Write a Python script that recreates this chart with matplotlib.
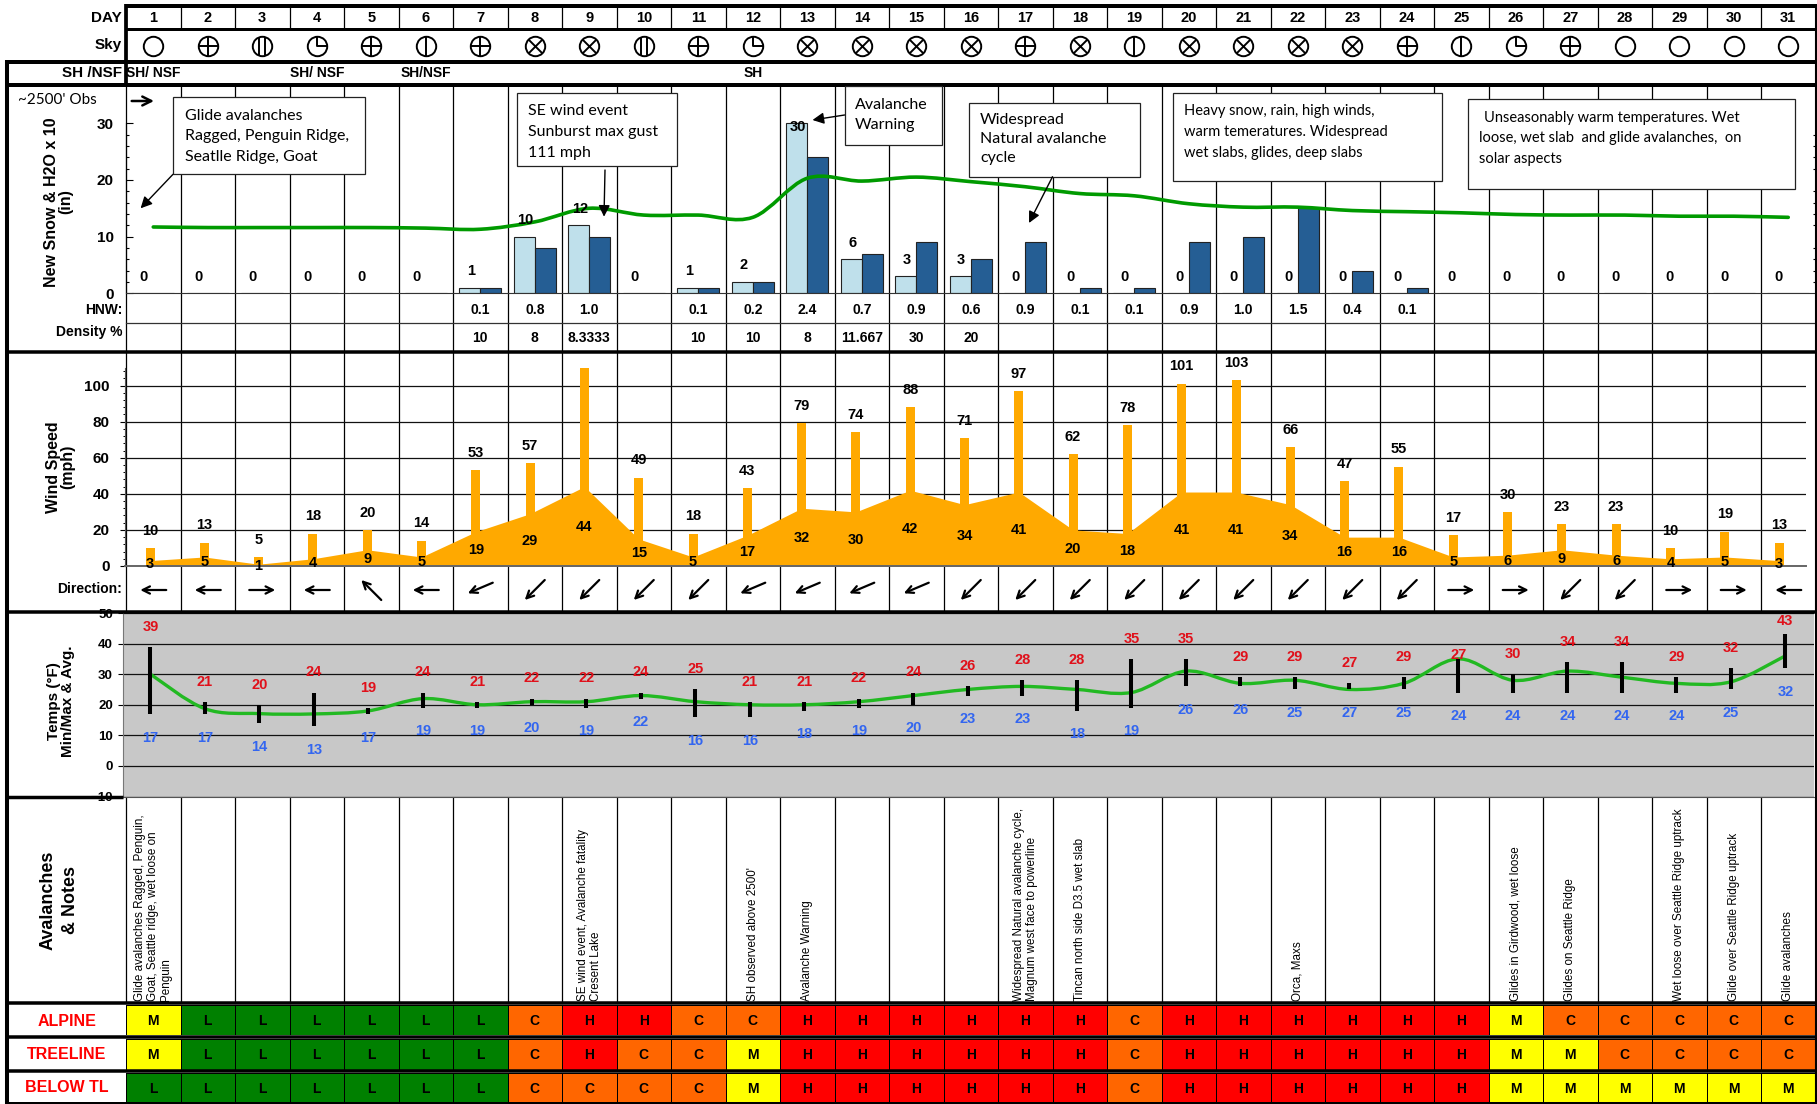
import numpy as np
import matplotlib
matplotlib.use('Agg')
import matplotlib.pyplot as plt
from matplotlib.colors import ListedColormap
from matplotlib.patches import PathPatch, Rectangle
from matplotlib.path import Path

plt.rcParams['font.family'] = ['Liberation Sans', 'DejaVu Sans']

W, H = 1817, 1104
COL_LEFT, COL_W = 126, 54.5
COL_RIGHT = COL_LEFT + 31 * COL_W

days = list(range(1, 32))
sky = ['O', '+', 'II', 'Q', '+', '|', '+', 'X', 'X', 'II', '+', 'Q', 'X', 'X', 'X', 'X', '+',
       'X', '|', 'X', 'X', 'X', 'X', '+', '|', 'Q', '+', 'O', 'O', 'O', 'O']
sh_nsf = {1: 'SH/ NSF', 4: 'SH/ NSF', 6: 'SH/NSF', 12: 'SH'}

new_snow = [0, 0, 0, 0, 0, 0, 1, 10, 12, 0, 1, 2, 30, 6, 3, 3, 0, 0, 0, 0, 0, 0, 0, 0, 0, 0, 0, 0, 0, 0, 0]
h2o_x10 = [0, 0, 0, 0, 0, 0, 1, 8, 10, 0, 1, 2, 24, 7, 9, 6, 9, 1, 1, 9, 10, 15, 4, 1, 0, 0, 0, 0, 0, 0, 0]
snow_depth = [11.7, 11.6, 11.6, 11.6, 11.6, 11.5, 11.3, 12.6, 15, 13.8, 13.8, 13.4, 20.3, 19.8, 20.5, 19.7,
              18.8, 17.6, 17.2, 15.8, 15.2, 15.2, 14.6, 14.4, 14.2, 13.9, 13.8, 13.8, 13.6, 13.6, 13.4]
hnw = ['', '', '', '', '', '', '0.1', '0.8', '1.0', '', '0.1', '0.2', '2.4', '0.7', '0.9', '0.6', '0.9',
       '0.1', '0.1', '0.9', '1.0', '1.5', '0.4', '0.1', '', '', '', '', '', '', '']
density = ['', '', '', '', '', '', '10', '8', '8.3333', '', '10', '10', '8', '11.667', '30', '20'] + [''] * 15

wind_gust = [10, 13, 5, 18, 20, 14, 53, 57, 110, 49, 18, 43, 79, 74, 88, 71, 97, 62, 78, 101, 103, 66, 47, 55,
             17, 30, 23, 23, 10, 19, 13]
wind_avg = [3, 5, 1, 4, 9, 5, 19, 29, 44, 15, 5, 17, 32, 30, 42, 34, 41, 20, 18, 41, 41, 34, 16, 16,
            5, 6, 9, 6, 4, 5, 3]
wind_dir = ['W', 'W', 'E', 'W', 'NW', 'W', 'SWs', 'SW', 'SW', 'SW', 'SW', 'SWs', 'SWs', 'SWs', 'SWs', 'SW', 'SW',
            'SW', 'SW', 'SW', 'SW', 'SW', 'SW', 'SW', 'E', 'E', 'SW', 'SW', 'E', 'E', 'W']

temp_max = [39, 21, 20, 24, 19, 24, 21, 22, 22, 24, 25, 21, 21, 22, 24, 26, 28, 28, 35, 35, 29, 29, 27, 29,
            27, 30, 34, 34, 29, 32, 43]
temp_min = [17, 17, 14, 13, 17, 19, 19, 20, 19, 22, 16, 16, 18, 19, 20, 23, 23, 18, 19, 26, 26, 25, 27, 25,
            24, 24, 24, 24, 24, 25, 32]
bar_hi = [39, 21, 20, 24, 19, 24, 21, 22, 22, 24, 25, 21, 21, 22, 24, 26, 28, 28, 35, 35, 29, 29, 27, 29,
          35, 30, 34, 34, 29, 32, 43]
bar_lo = [17, 17, 14, 13, 17, 19, 19, 20, 19, 22, 16, 16, 18, 19, 20, 23, 23, 18, 19, 26, 26, 25, 25, 25,
          24, 24, 24, 24, 24, 25, 32]
temp_avg = [30, 18.7, 17.1, 17, 18, 22, 20, 21, 21, 23, 21, 20, 20, 21, 23, 25, 26, 25, 24, 31, 27, 28, 25, 27,
            35, 28, 31, 29, 27, 27.5, 36]

notes = {1: 'Glide avalanches Ragged, Penguin,\nGoat, Seattle ridge, wet loose on\nPenguin',
         9: 'SE wind event, Avalanche fatality\nCresent Lake',
         12: "SH observed above 2500'",
         13: 'Avalanche Warning',
         17: 'Widespread Natural avalanche cycle,\nMagnum west face to powerline',
         18: 'Tincan north side D3.5 wet slab',
         22: 'Orca, Maxs',
         26: 'Glides in Girdwood, wet loose',
         27: 'Glides on Seattle Ridge',
         29: 'Wet loose over Seattle Ridge uptrack',
         30: 'Glide over Seattle Ridge uptrack',
         31: 'Glide avalanches'}

alpine = 'MLLLLLLCHHCCHHHHHHCHHHHHHMCCCCC'
treeline = 'MLLLLLLCHCCMHHHHHHCHHHHHHMMCCCC'
below_tl = 'LLLLLLLCCCCMHHHHHHCHHHHHHMMMMMM'

ORANGE = '#FFA900'
DANGER = {'L': '#008000', 'M': '#FFFF00', 'C': '#FF6600', 'H': '#FF0000'}


def panel(left, right, top, bottom, centre1=None, step=COL_W, ylim=(0, 1), zorder=2):
    # axes placed in reference pixels, x in day numbers
    if centre1 is None:
        centre1 = COL_LEFT + COL_W / 2
    ax = fig.add_axes([left / W, 1 - bottom / H, (right - left) / W, (bottom - top) / H], zorder=zorder)
    ax.set_xlim(1 + (left - centre1) / step, 1 + (right - centre1) / step)
    ax.set_ylim(*ylim)
    ax.patch.set_visible(False)
    ax.set_xticks([])
    ax.set_yticks([])
    for s in ax.spines.values():
        s.set_visible(False)
    return ax


def overlay(zorder):
    ax = fig.add_axes([0, 0, 1, 1], zorder=zorder)
    ax.set_xlim(0, W)
    ax.set_ylim(H, 0)
    ax.axis('off')
    return ax


def smooth_line(ax, x, y, **kw):
    # same kind of bezier smoothing a spreadsheet chart uses
    pts = np.column_stack([x, y]).astype(float)
    verts, codes = [pts[0]], [Path.MOVETO]
    for i in range(len(pts) - 1):
        before = pts[max(i - 1, 0)]
        after = pts[min(i + 2, len(pts) - 1)]
        verts += [pts[i] + (pts[i + 1] - before) / 6, pts[i + 1] - (after - pts[i]) / 6, pts[i + 1]]
        codes += [Path.CURVE4] * 3
    ax.add_patch(PathPatch(Path(verts, codes), fill=False, capstyle='round', **kw))


fig = plt.figure(figsize=(W / 100, H / 100), dpi=100)
fig.patch.set_facecolor('white')

# column rules under everything
under = overlay(0)
for i in range(32):
    x = COL_LEFT + i * COL_W
    under.plot([x, x], [5, 29], color='k', lw=0.9)
    under.plot([x, x], [85, 612], color='k', lw=0.9)
    under.plot([x, x], [797, 1003], color='k', lw=0.9)
under.plot([COL_LEFT, COL_RIGHT], [323, 323], color='#333333', lw=0.9)

# header rows
head = panel(COL_LEFT, COL_RIGHT, 5, 85, ylim=(85, 5))
for d in days:
    head.text(d, 18.5, str(d), ha='center', va='center', fontsize=10.5, fontweight='bold')
for d, s in sh_nsf.items():
    head.text(d, 73, s, ha='center', va='center', fontsize=10, fontweight='bold')

# the first moveto in each path only pins the marker scale to the circle radius
move, line = Path.MOVETO, Path.LINETO
sky_paths = {
    '+': Path([(-1, 0), (1, 0), (0, -1), (0, 1)], [move, line, move, line]),
    'X': Path([(1, 1), (-.7, -.7), (.7, .7), (-.7, .7), (.7, -.7)], [move, move, line, move, line]),
    '|': Path([(0, -1), (0, 1)], [move, line]),
    'II': Path([(1, 1), (-.28, -.95), (-.28, .95), (.28, -.95), (.28, .95)], [move, move, line, move, line]),
    'Q': Path([(0, 1), (0, 0), (1, 0)], [move, line, line]),
}
for d, s in zip(days, sky):
    head.plot(d, 45.5, 'o', ms=14, mfc='white', mec='k', mew=1.4)
    if s in sky_paths:
        head.plot(d, 45.5, marker=sky_paths[s], ms=14, mfc='none', mec='k', mew=1.4)

# new snow
snow = panel(COL_LEFT, COL_RIGHT, 85, 293.3, ylim=(0, 36.75))
xs = np.array(days)
bw = 21 / COL_W
snow.bar(xs - bw / 2, new_snow, bw, color='#BFE0EB', edgecolor='#222222', lw=0.8)
snow.bar(xs + bw / 2, h2o_x10, bw, color='#255E94', edgecolor='#222222', lw=0.8)
smooth_line(snow, days, snow_depth, color='#009A00', lw=2.6, zorder=4)
for d, v in zip(days, new_snow):
    off = -2.5 if v == 30 else 12
    snow.annotate(str(v), (d - 9.5 / COL_W, v), xytext=(0, off), textcoords='offset points',
                  ha='center', va='center', fontsize=10.5, fontweight='bold', zorder=5)
snow.spines['left'].set_visible(True)
snow.spines['left'].set_bounds(0, 30)
snow.spines['bottom'].set_visible(True)
snow.spines['bottom'].set_color('#333333')
snow.set_yticks([0, 10, 20, 30])
snow.set_yticks(np.arange(0, 31, 2), minor=True)
snow.tick_params(axis='y', which='major', direction='in', length=4.8, width=0.8, pad=9, labelsize=11)
snow.tick_params(axis='y', which='minor', direction='in', length=2.5, width=0.8, right=True)
for t in snow.get_yticklabels():
    t.set_fontweight('bold')

table = panel(COL_LEFT, COL_RIGHT, 293, 352, ylim=(352, 293))
for d, a, b in zip(days, hnw, density):
    table.text(d, 309.5, a, ha='center', va='center', fontsize=10, fontweight='bold')
    table.text(d, 338.5, b, ha='center', va='center', fontsize=10, fontweight='bold')

# wind
wind = panel(124.5, 1806, 352, 566, centre1=150, step=54.3, ylim=(0, 118.6))
wind.yaxis.grid(True, color='#111111', lw=0.9)
wind.set_axisbelow(True)
wind.fill_between(days, wind_avg, color=ORANGE, lw=0, zorder=2)
wind.bar(days, wind_gust, 9 / 54.3, color=ORANGE, zorder=2)
for d, g, a in zip(days, wind_gust, wind_avg):
    if d != 9:
        wind.annotate(str(g), (d, g), xytext=(0, 12.5), textcoords='offset points',
                      ha='center', va='center', fontsize=10.5, fontweight='bold', zorder=5)
    wind.text(d, a / 2 - 0.5, str(a), ha='center', va='center', fontsize=10.5, fontweight='bold', zorder=5)
wind.spines['left'].set_visible(True)
wind.spines['left'].set_bounds(0, 110)
wind.spines['left'].set_color('#555555')
wind.spines['bottom'].set_visible(True)
wind.spines['bottom'].set_color('#666666')
wind.spines['bottom'].set_linewidth(1.4)
wind.set_yticks(np.arange(0, 101, 20))
wind.set_yticks(np.arange(0, 111, 4), minor=True)
wind.tick_params(axis='y', which='major', length=3.6, width=0.8, pad=7, labelsize=11)
wind.tick_params(axis='y', which='minor', length=1.8, width=0.7)
for t in wind.get_yticklabels():
    t.set_fontweight('bold')

# direction arrows, half vectors in pixels
dir_vec = {'W': (-13, 0, 590), 'E': (13, 0, 590), 'NW': (-10, -10, 590),
           'SW': (-10, 10, 590), 'SWs': (-12.5, 5.3, 588)}
arrows = panel(COL_LEFT, COL_RIGHT, 566, 612, ylim=(612, 566))
for d, name in zip(days, wind_dir):
    dx, dy, yc = dir_vec[name]
    arrows.annotate('', xy=(d + dx / COL_W, yc + dy), xytext=(d - dx / COL_W, yc - dy),
                    arrowprops=dict(arrowstyle='->', lw=1.6, color='k', mutation_scale=13, shrinkA=0, shrinkB=0))

# temperature
temps = panel(123.4, 1814, 613, 796.5, centre1=150.4, step=54.5, ylim=(-10, 50))
temps.patch.set_visible(True)
temps.set_facecolor('#C8C8C8')
temps.yaxis.grid(True, color='#111111', lw=0.9)
temps.set_axisbelow(True)
temps.set_yticks(np.arange(-10, 51, 10))
temps.tick_params(axis='y', length=3.5, width=0.8, pad=4, labelsize=9.5)
for t in temps.get_yticklabels():
    t.set_fontweight('bold')
temps.spines['bottom'].set_visible(True)
temps.spines['bottom'].set_color('#555555')
temps.spines['left'].set_visible(True)
temps.spines['left'].set_color('#777777')
smooth_line(temps, days, temp_avg, color='#22B922', lw=2.4, zorder=3)
temps.vlines(days, bar_lo, bar_hi, color='k', lw=2.9, zorder=4)
max_off = {25: 2.5, 31: 9.5}
for d, hi, lo, a, b in zip(days, bar_hi, bar_lo, temp_max, temp_min):
    temps.annotate(str(a), (d, hi), xytext=(0, max_off.get(d, 14.5)), textcoords='offset points', ha='center',
                   va='center', fontsize=10.5, fontweight='bold', color='#E0101A', zorder=5)
    temps.annotate(str(b), (d, lo), xytext=(0, -17), textcoords='offset points', ha='center',
                   va='center', fontsize=10.5, fontweight='bold', color='#3366F0', zorder=5)

# notes
note_ax = panel(COL_LEFT, COL_RIGHT, 797, 1003, ylim=(1003, 797))
for d, s in notes.items():
    note_ax.text(d, 1001.5, s, rotation=90, ha='center', va='bottom', ma='left', fontsize=8.4, linespacing=1.1)

# danger rating rows
rows = [(alpine, 1005, 1035), (treeline, 1038.5, 1069.5), (below_tl, 1072.5, 1102.5)]
cmap = ListedColormap([DANGER[k] for k in 'LMCH'])
for levels, top_px, bottom_px in rows:
    ax = panel(COL_LEFT, COL_RIGHT, top_px, bottom_px)
    vals = np.array([['LMCH'.index(c) for c in levels]])
    ax.pcolormesh(np.arange(0.5, 32), [0, 1], vals, cmap=cmap, vmin=0, vmax=3, edgecolors='k', linewidth=0.7)
    for d, c in zip(days, levels):
        ax.text(d, 0.46, c, ha='center', va='center', fontsize=10, fontweight='bold')

# frame, row titles, call-outs
top = overlay(10)
for y, x0, lw in [(6, COL_LEFT, 4), (29, COL_LEFT, 3), (62, 5, 4), (85, 5, 4), (352, 5, 3.5), (612, 5, 3.5),
                  (1003, 5, 3.5), (1037, 5, 3.5), (1071, 5, 3.5), (1103, 5, 2)]:
    top.plot([x0, COL_RIGHT + 1], [y, y], color='k', lw=lw * 0.72, solid_capstyle='butt')
top.plot([5, 123], [797, 797], color='k', lw=2.5, solid_capstyle='butt')
top.plot([7, 7], [60, 1104], color='k', lw=2.9, solid_capstyle='butt')
top.plot([COL_LEFT, COL_LEFT], [4, 87], color='k', lw=2.7, solid_capstyle='butt')
top.plot([COL_RIGHT, COL_RIGHT], [4, 1104], color='k', lw=1.5, solid_capstyle='butt')

for s, y, size in [('DAY', 18.5, 11), ('Sky', 45.5, 11), ('SH /NSF', 73, 11), ('HNW:', 309.5, 10),
                   ('Density %', 332, 10), ('Direction:', 589, 10)]:
    top.text(122, y, s, ha='right', va='center', fontsize=size, fontweight='bold')
for s, x, y, size, gap in [('New Snow & H2O x 10\n(in)', 59, 202, 11.5, 0.95), ('Wind Speed\n(mph)', 61, 467, 11.5, 0.95),
                           ('Temps (°F)\nMin/Max & Avg.', 61, 701, 11, 0.95), ('Avalanches\n& Notes', 59, 900, 13, 1.45)]:
    top.text(x, y, s, rotation=90, ha='center', va='center', ma='center', fontsize=size, fontweight='bold',
             linespacing=gap)
for s, y in [('ALPINE', 1021), ('TREELINE', 1054.5), ('BELOW TL', 1087)]:
    top.text(67, y, s, ha='center', va='center', fontsize=11.5, fontweight='bold', color='#FF0000')

top.text(18, 100.5, "~2500' Obs", ha='left', va='center', fontsize=11, family='Lato')

boxes = [(173, 365, 97, 174, 11.5, [(185, 115.7, 'Glide avalanches'), (185, 136.3, 'Ragged, Penguin Ridge,'),
                                    (185, 156.7, 'Seatlle Ridge, Goat')]),
         (516.5, 677, 92.7, 166, 11.5, [(528, 110.7, 'SE wind event'), (528, 132, 'Sunburst max gust'),
                                        (528, 152.7, '111 mph')]),
         (844.6, 942, 86, 144.7, 11.5, [(855, 105, 'Avalanche'), (855, 125, 'Warning')]),
         (968.5, 1140, 103, 176.7, 11.5, [(980, 119.7, 'Widespread'), (980, 138.7, 'Natural avalanche'),
                                          (980, 157.7, 'cycle')]),
         (1173, 1442, 92.7, 181, 10.5, [(1184, 111, 'Heavy snow, rain, high winds,'),
                                        (1184, 132, 'warm temeratures. Widespread'),
                                        (1184, 152.7, 'wet slabs, glides, deep slabs')]),
         (1467.8, 1794.7, 99, 189, 10.5, [(1483.5, 117.7, 'Unseasonably warm temperatures. Wet'),
                                          (1479, 137.7, 'loose, wet slab  and glide avalanches,  on'),
                                          (1479, 159, 'solar aspects')])]
for x0, x1, y0, y1, size, lines in boxes:
    top.add_patch(Rectangle((x0, y0), x1 - x0, y1 - y0, fc='white', ec='#222222', lw=0.9, zorder=3))
    for x, y, s in lines:
        top.text(x, y, s, ha='left', va='center', fontsize=size, family='Lato', zorder=4)

top.annotate('', xy=(154, 101), xytext=(131.7, 101), zorder=5,
             arrowprops=dict(arrowstyle='->', lw=1.8, color='k', mutation_scale=16, shrinkA=0, shrinkB=0))
callouts = [((173, 174.3), (140.6, 208.3)), ((605, 170), (604, 216.7)),
            ((844.6, 115), (812.5, 120)), ((1052.5, 176.7), (1029, 223))]
for tail, tip in callouts:
    top.annotate('', xy=tip, xytext=tail, zorder=5,
                 arrowprops=dict(arrowstyle='-|>', lw=1.0, color='k', mutation_scale=17, shrinkA=0, shrinkB=0))

fig.savefig('out.png', dpi=100)
